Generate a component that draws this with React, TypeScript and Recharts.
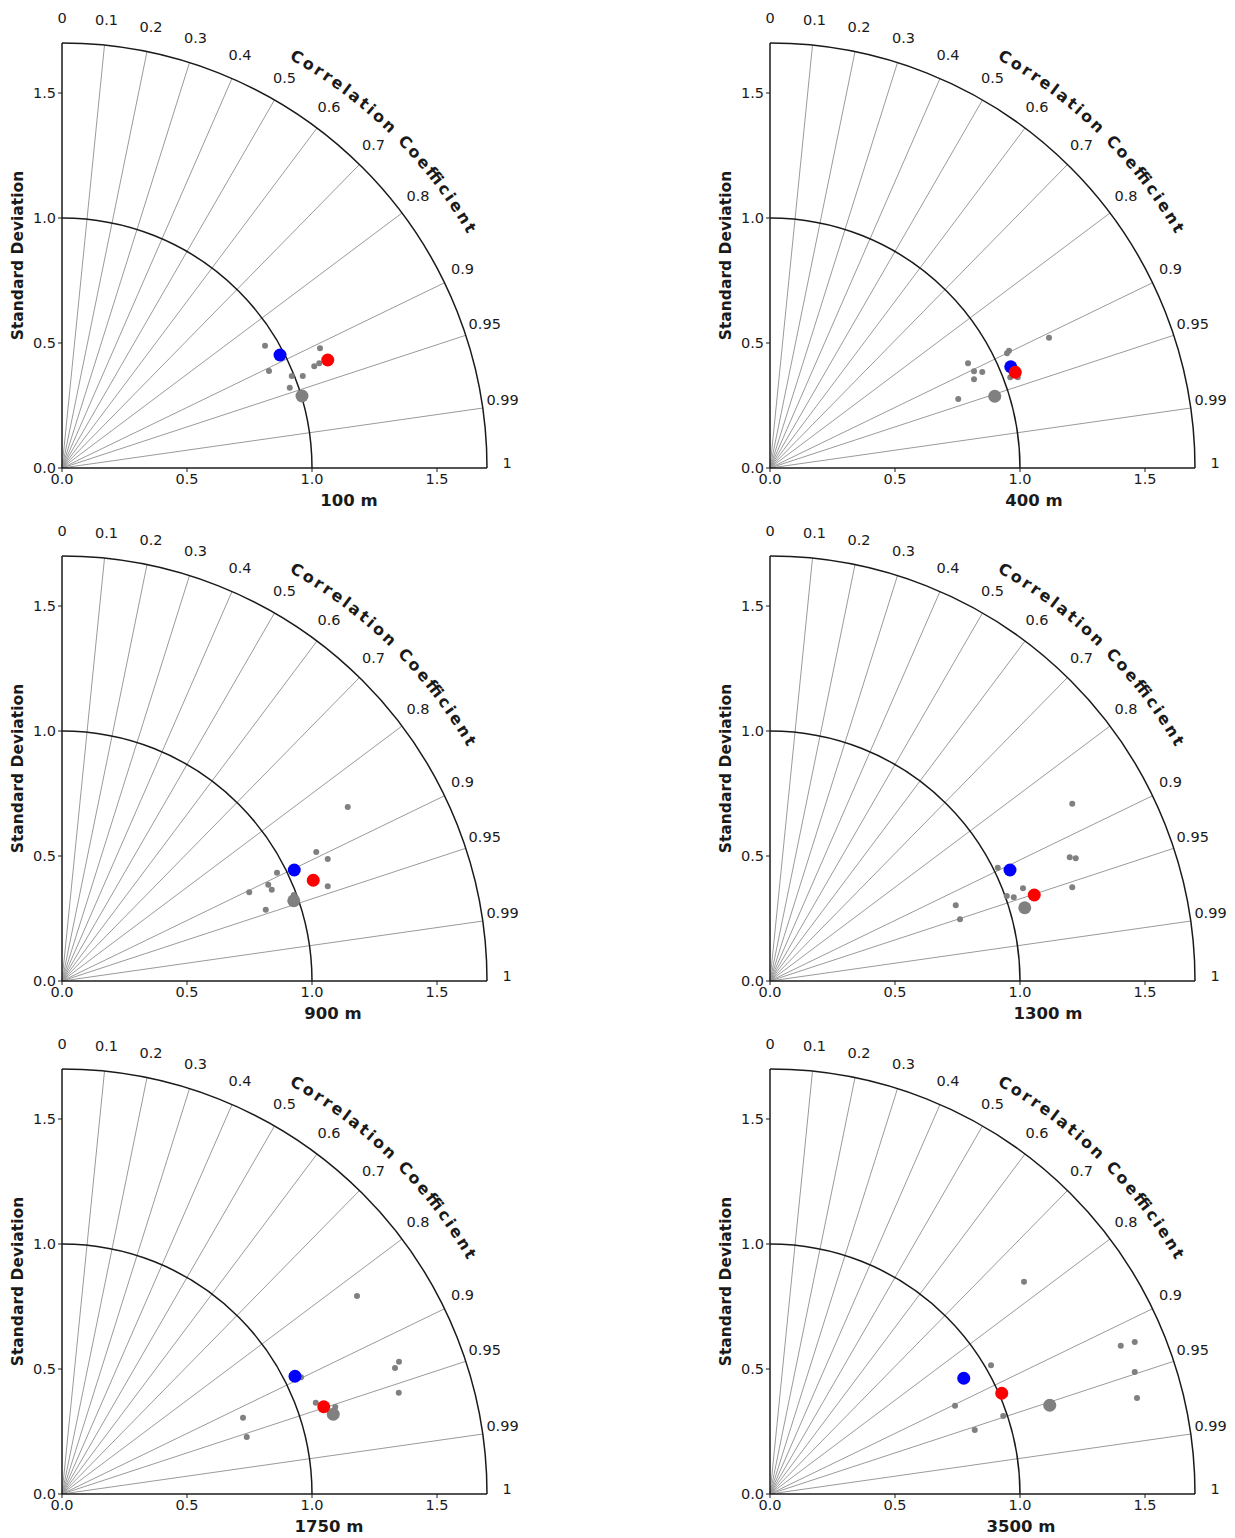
import React from 'react'
import { ScatterChart, Scatter, XAxis, YAxis, ReferenceLine } from 'recharts'

type Pt = [number, number]

const DEPTHS = ['100 m', '400 m', '900 m', '1300 m', '1750 m', '3500 m']
const STD_TICKS = [0, 0.5, 1, 1.5]
const CORR_TICKS = [0, 0.1, 0.2, 0.3, 0.4, 0.5, 0.6, 0.7, 0.8, 0.9, 0.95, 0.99, 1]
const STD_MAX = 1.7
const REF_STD = 1

// (x, y) in std-dev units
const BLUE: Pt[] = [
  [0.872, 0.452], [0.963, 0.405], [0.929, 0.444],
  [0.96, 0.444], [0.932, 0.471], [0.775, 0.463],
]
const RED: Pt[] = [
  [1.063, 0.432], [0.981, 0.383], [1.005, 0.403],
  [1.057, 0.344], [1.047, 0.349], [0.927, 0.403],
]
const GRAY_BIG: Pt[] = [
  [0.96, 0.288], [0.899, 0.287], [0.927, 0.321],
  [1.019, 0.293], [1.085, 0.319], [1.119, 0.355],
]
const GRAY_SMALL: Pt[][] = [
  [[0.812, 0.489], [1.032, 0.479], [1.009, 0.407], [1.029, 0.419], [0.828, 0.388], [0.919, 0.368], [0.963, 0.368], [0.911, 0.321]],
  [[1.116, 0.521], [0.956, 0.469], [0.948, 0.459], [0.792, 0.419], [0.816, 0.387], [0.849, 0.384], [0.816, 0.355], [0.961, 0.363], [0.991, 0.363], [0.753, 0.276]],
  [[1.143, 0.696], [1.017, 0.516], [1.063, 0.488], [0.86, 0.433], [0.825, 0.385], [0.839, 0.365], [0.749, 0.355], [1.063, 0.379], [0.927, 0.344], [0.815, 0.285]],
  [[1.209, 0.709], [1.199, 0.495], [1.223, 0.491], [0.911, 0.453], [1.012, 0.371], [1.209, 0.375], [0.947, 0.34], [0.975, 0.335], [0.743, 0.303], [0.76, 0.247]],
  [[1.18, 0.792], [1.348, 0.529], [1.332, 0.504], [1.347, 0.405], [0.956, 0.467], [1.015, 0.365], [1.093, 0.348], [0.724, 0.305], [0.739, 0.228]],
  [[1.016, 0.849], [1.459, 0.608], [1.403, 0.593], [1.459, 0.488], [1.468, 0.384], [0.884, 0.515], [0.74, 0.353], [0.933, 0.312], [0.819, 0.256]],
]

// layout
const W = 525
const H = 512
const POS = [[0, 0], [708, 0], [0, 513], [708, 513], [0, 1026], [708, 1026]]
const TITLE_DX = [287, 264, 271, 278, 267, 251]
const FONT = '"DejaVu Sans", sans-serif'
const INK = '#1a1a1a'

const toData = (pts: Pt[]) => pts.map(([x, y]) => ({ x, y }))

const dot = (r: number, fill: string) => (p: any) =>
  <circle cx={p.cx} cy={p.cy} r={r} fill={fill} />

const spoke = (c: number) => (p: any) => {
  const { x1, y1, x2, y2 } = p
  const k = 1.78 / STD_MAX
  const lx = x1 + (x2 - x1) * k
  const ly = y1 + (y2 - y1) * k - 5
  const drawLine = c > 0 && c < 1
  return (
    <g>
      {drawLine && <line x1={x1} y1={y1} x2={x2} y2={y2} stroke="#9a9a9a" strokeWidth={1} />}
      <text x={lx} y={ly} textAnchor="middle" dominantBaseline="central"
        fontSize={14.5} fontFamily={FONT} fill={INK}>{String(c)}</text>
    </g>
  )
}

const refArc = (p: any) => {
  const { x1, y1, x2 } = p
  const r = x2 - x1
  return <path d={`M ${x2} ${y1} A ${r} ${r} 0 0 0 ${x1} ${y1 - r}`}
    fill="none" stroke={INK} strokeWidth={1.5} />
}

const outerFrame = (i: number) => (p: any) => {
  const { x1, y1, x2 } = p
  const r = x2 - x1
  const R = r * 1.872 / STD_MAX
  const a0 = (61 * Math.PI) / 180
  const a1 = (30 * Math.PI) / 180
  const id = `corr-path-${i}`
  const tp = `M ${x1 + R * Math.cos(a0)} ${y1 - R * Math.sin(a0)} A ${R} ${R} 0 0 1 ${x1 + R * Math.cos(a1)} ${y1 - R * Math.sin(a1)}`
  const unit = r / STD_MAX
  return (
    <g>
      <path d={`M ${x2} ${y1} A ${r} ${r} 0 0 0 ${x1} ${y1 - r}`}
        fill="none" stroke={INK} strokeWidth={1.5} />
      <defs><path id={id} d={tp} /></defs>
      <text fontFamily={FONT} fontWeight="bold" fontSize={16} fill={INK}>
        <textPath href={`#${id}`} textLength={R * (a0 - a1)} lengthAdjust="spacing">
          Correlation Coefficient
        </textPath>
      </text>
      <text x={x1 - 44} y={y1 - 0.85 * unit} transform={`rotate(-90 ${x1 - 44} ${y1 - 0.85 * unit})`}
        textAnchor="middle" dominantBaseline="central"
        fontFamily={FONT} fontWeight="bold" fontSize={15.5} fill={INK}>Standard Deviation</text>
      <text x={x1 + TITLE_DX[i]} y={y1 + 32} textAnchor="middle" dominantBaseline="central"
        fontFamily={FONT} fontWeight="bold" fontSize={16.5} fill={INK}>{DEPTHS[i]}</text>
    </g>
  )
}

function Taylor({ i }: { i: number }) {
  const axisCommon = {
    type: 'number' as const,
    domain: [0, STD_MAX],
    ticks: STD_TICKS,
    allowDataOverflow: true,
    tickFormatter: (v: number) => v.toFixed(1),
    tickSize: 4,
    tickMargin: 2,
    tick: { fontSize: 14.5, fill: INK, fontFamily: FONT },
    axisLine: { stroke: INK, strokeWidth: 1.5 },
    tickLine: { stroke: INK },
  }
  return (
    <div style={{ position: 'absolute', left: POS[i][0], top: POS[i][1] }}>
      <ScatterChart width={W} height={H} margin={{ top: 43, right: W - 487, bottom: 0, left: 0 }}>
        <XAxis dataKey="x" height={44} {...axisCommon} />
        <YAxis dataKey="y" width={62} {...axisCommon} />
        {CORR_TICKS.map((c) => (
          <ReferenceLine
            key={c}
            ifOverflow="visible"
            segment={[{ x: 0, y: 0 }, { x: STD_MAX * c, y: STD_MAX * Math.sin(Math.acos(c)) }]}
            shape={spoke(c)}
          />
        ))}
        <ReferenceLine ifOverflow="visible" segment={[{ x: 0, y: 0 }, { x: REF_STD, y: 0 }]} shape={refArc} />
        <ReferenceLine ifOverflow="visible" segment={[{ x: 0, y: 0 }, { x: STD_MAX, y: 0 }]} shape={outerFrame(i)} />
        <Scatter data={toData(GRAY_SMALL[i])} dataKey="y" isAnimationActive={false} shape={dot(3, '#808080')} />
        <Scatter data={toData([GRAY_BIG[i]])} dataKey="y" isAnimationActive={false} shape={dot(6.5, '#808080')} />
        <Scatter data={toData([BLUE[i]])} dataKey="y" isAnimationActive={false} shape={dot(6.5, '#0000ff')} />
        <Scatter data={toData([RED[i]])} dataKey="y" isAnimationActive={false} shape={dot(6.5, '#ff0000')} />
      </ScatterChart>
    </div>
  )
}

export default function App() {
  return (
    <div style={{ position: 'absolute', left: 0, top: 0, width: 1235, height: 1538, overflow: 'hidden', background: '#fff' }}>
      {DEPTHS.map((_, i) => <Taylor key={i} i={i} />)}
    </div>
  )
}
